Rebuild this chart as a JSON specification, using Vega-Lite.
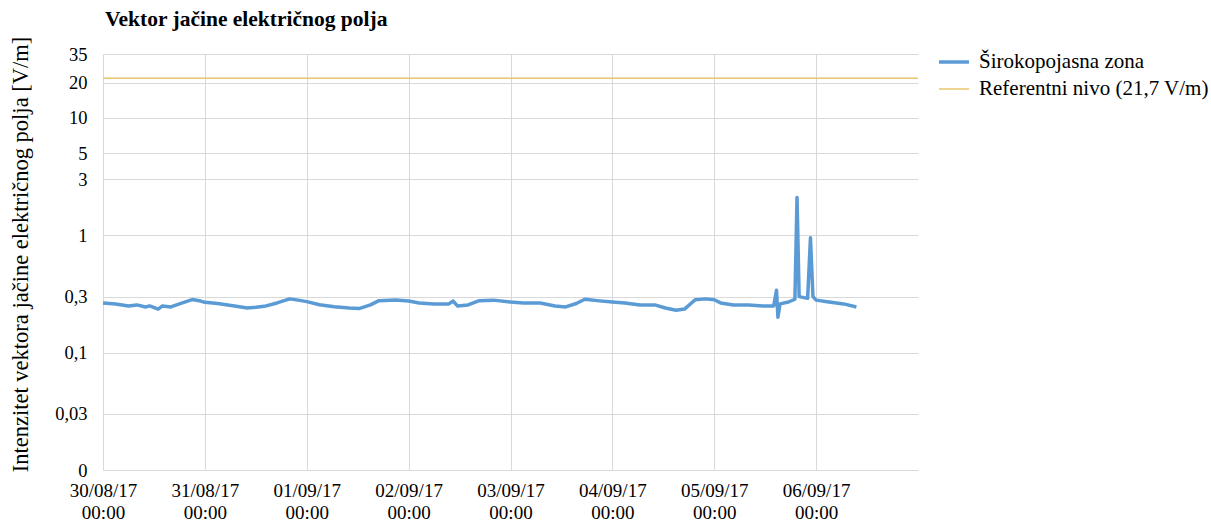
{
  "$schema": "https://vega.github.io/schema/vega-lite/v6.json",
  "width": 815,
  "height": 416,
  "autosize": {"type": "none"},
  "padding": {"left": 103, "top": 54, "right": 293, "bottom": 53},
  "background": "white",
  "config": {
    "view": {"stroke": null},
    "font": "Liberation Serif"
  },
  "title": {
    "text": "Vektor jačine električnog polja",
    "anchor": "start",
    "frame": "group",
    "font": "Liberation Serif",
    "fontSize": 21.5,
    "fontWeight": "bold",
    "color": "#000000",
    "offset": 15,
    "dx": 2,
    "dy": 9
  },
  "datasets": {
    "mjerenja": [
      {"t": "2017-08-30T00:00:00", "v": 0.265, "serija": "Širokopojasna zona"},
      {"t": "2017-08-30T03:00:00", "v": 0.26, "serija": "Širokopojasna zona"},
      {"t": "2017-08-30T06:00:00", "v": 0.25, "serija": "Širokopojasna zona"},
      {"t": "2017-08-30T08:00:00", "v": 0.255, "serija": "Širokopojasna zona"},
      {"t": "2017-08-30T10:00:00", "v": 0.245, "serija": "Širokopojasna zona"},
      {"t": "2017-08-30T11:00:00", "v": 0.25, "serija": "Širokopojasna zona"},
      {"t": "2017-08-30T13:00:00", "v": 0.235, "serija": "Širokopojasna zona"},
      {"t": "2017-08-30T14:00:00", "v": 0.25, "serija": "Širokopojasna zona"},
      {"t": "2017-08-30T16:00:00", "v": 0.245, "serija": "Širokopojasna zona"},
      {"t": "2017-08-30T18:00:00", "v": 0.26, "serija": "Širokopojasna zona"},
      {"t": "2017-08-30T21:00:00", "v": 0.283, "serija": "Širokopojasna zona"},
      {"t": "2017-08-30T23:00:00", "v": 0.275, "serija": "Širokopojasna zona"},
      {"t": "2017-08-31T00:00:00", "v": 0.268, "serija": "Širokopojasna zona"},
      {"t": "2017-08-31T03:00:00", "v": 0.262, "serija": "Širokopojasna zona"},
      {"t": "2017-08-31T07:00:00", "v": 0.25, "serija": "Širokopojasna zona"},
      {"t": "2017-08-31T10:00:00", "v": 0.24, "serija": "Širokopojasna zona"},
      {"t": "2017-08-31T12:00:00", "v": 0.243, "serija": "Širokopojasna zona"},
      {"t": "2017-08-31T14:00:00", "v": 0.248, "serija": "Širokopojasna zona"},
      {"t": "2017-08-31T17:00:00", "v": 0.265, "serija": "Širokopojasna zona"},
      {"t": "2017-08-31T20:00:00", "v": 0.287, "serija": "Širokopojasna zona"},
      {"t": "2017-08-31T22:00:00", "v": 0.28, "serija": "Širokopojasna zona"},
      {"t": "2017-09-01T00:00:00", "v": 0.272, "serija": "Širokopojasna zona"},
      {"t": "2017-09-01T03:00:00", "v": 0.256, "serija": "Širokopojasna zona"},
      {"t": "2017-09-01T06:30:00", "v": 0.246, "serija": "Širokopojasna zona"},
      {"t": "2017-09-01T10:00:00", "v": 0.24, "serija": "Širokopojasna zona"},
      {"t": "2017-09-01T12:30:00", "v": 0.238, "serija": "Širokopojasna zona"},
      {"t": "2017-09-01T15:00:00", "v": 0.255, "serija": "Širokopojasna zona"},
      {"t": "2017-09-01T17:00:00", "v": 0.277, "serija": "Širokopojasna zona"},
      {"t": "2017-09-01T21:00:00", "v": 0.281, "serija": "Širokopojasna zona"},
      {"t": "2017-09-02T00:00:00", "v": 0.275, "serija": "Širokopojasna zona"},
      {"t": "2017-09-02T02:30:00", "v": 0.265, "serija": "Širokopojasna zona"},
      {"t": "2017-09-02T06:00:00", "v": 0.26, "serija": "Širokopojasna zona"},
      {"t": "2017-09-02T09:30:00", "v": 0.26, "serija": "Širokopojasna zona"},
      {"t": "2017-09-02T10:30:00", "v": 0.275, "serija": "Širokopojasna zona"},
      {"t": "2017-09-02T11:30:00", "v": 0.25, "serija": "Širokopojasna zona"},
      {"t": "2017-09-02T14:00:00", "v": 0.255, "serija": "Širokopojasna zona"},
      {"t": "2017-09-02T16:30:00", "v": 0.276, "serija": "Širokopojasna zona"},
      {"t": "2017-09-02T20:00:00", "v": 0.28, "serija": "Širokopojasna zona"},
      {"t": "2017-09-03T00:00:00", "v": 0.27, "serija": "Širokopojasna zona"},
      {"t": "2017-09-03T03:00:00", "v": 0.265, "serija": "Širokopojasna zona"},
      {"t": "2017-09-03T07:00:00", "v": 0.265, "serija": "Širokopojasna zona"},
      {"t": "2017-09-03T10:30:00", "v": 0.25, "serija": "Širokopojasna zona"},
      {"t": "2017-09-03T13:00:00", "v": 0.245, "serija": "Širokopojasna zona"},
      {"t": "2017-09-03T15:30:00", "v": 0.262, "serija": "Širokopojasna zona"},
      {"t": "2017-09-03T17:30:00", "v": 0.285, "serija": "Širokopojasna zona"},
      {"t": "2017-09-03T21:00:00", "v": 0.276, "serija": "Širokopojasna zona"},
      {"t": "2017-09-04T00:00:00", "v": 0.27, "serija": "Širokopojasna zona"},
      {"t": "2017-09-04T03:00:00", "v": 0.265, "serija": "Širokopojasna zona"},
      {"t": "2017-09-04T06:30:00", "v": 0.255, "serija": "Širokopojasna zona"},
      {"t": "2017-09-04T10:00:00", "v": 0.255, "serija": "Širokopojasna zona"},
      {"t": "2017-09-04T12:30:00", "v": 0.24, "serija": "Širokopojasna zona"},
      {"t": "2017-09-04T15:00:00", "v": 0.23, "serija": "Širokopojasna zona"},
      {"t": "2017-09-04T17:00:00", "v": 0.235, "serija": "Širokopojasna zona"},
      {"t": "2017-09-04T19:30:00", "v": 0.282, "serija": "Širokopojasna zona"},
      {"t": "2017-09-04T22:00:00", "v": 0.287, "serija": "Širokopojasna zona"},
      {"t": "2017-09-05T00:00:00", "v": 0.282, "serija": "Širokopojasna zona"},
      {"t": "2017-09-05T01:30:00", "v": 0.265, "serija": "Širokopojasna zona"},
      {"t": "2017-09-05T04:30:00", "v": 0.255, "serija": "Širokopojasna zona"},
      {"t": "2017-09-05T08:00:00", "v": 0.255, "serija": "Širokopojasna zona"},
      {"t": "2017-09-05T11:30:00", "v": 0.25, "serija": "Širokopojasna zona"},
      {"t": "2017-09-05T14:00:00", "v": 0.25, "serija": "Širokopojasna zona"},
      {"t": "2017-09-05T14:40:00", "v": 0.34, "serija": "Širokopojasna zona"},
      {"t": "2017-09-05T15:00:00", "v": 0.2, "serija": "Širokopojasna zona"},
      {"t": "2017-09-05T15:30:00", "v": 0.26, "serija": "Širokopojasna zona"},
      {"t": "2017-09-05T17:30:00", "v": 0.27, "serija": "Širokopojasna zona"},
      {"t": "2017-09-05T19:00:00", "v": 0.285, "serija": "Širokopojasna zona"},
      {"t": "2017-09-05T19:30:00", "v": 2.1, "serija": "Širokopojasna zona"},
      {"t": "2017-09-05T20:00:00", "v": 0.3, "serija": "Širokopojasna zona"},
      {"t": "2017-09-05T22:00:00", "v": 0.29, "serija": "Širokopojasna zona"},
      {"t": "2017-09-05T22:40:00", "v": 0.95, "serija": "Širokopojasna zona"},
      {"t": "2017-09-05T23:15:00", "v": 0.3, "serija": "Širokopojasna zona"},
      {"t": "2017-09-06T00:00:00", "v": 0.28, "serija": "Širokopojasna zona"},
      {"t": "2017-09-06T03:00:00", "v": 0.27, "serija": "Širokopojasna zona"},
      {"t": "2017-09-06T06:30:00", "v": 0.26, "serija": "Širokopojasna zona"},
      {"t": "2017-09-06T09:30:00", "v": 0.245, "serija": "Širokopojasna zona"}
    ],
    "referenca": [
      {"v": 21.7, "serija": "Referentni nivo (21,7 V/m)"}
    ]
  },
  "layer": [
    {
      "data": {"name": "mjerenja"},
      "mark": {"type": "line", "strokeJoin": "round"},
      "encoding": {
        "x": {
          "field": "t",
          "type": "temporal",
          "scale": {
            "domain": [
              {"year": 2017, "month": 8, "date": 30},
              {"year": 2017, "month": 9, "date": 7}
            ],
            "nice": false
          },
          "axis": {
            "title": null,
            "values": [
              {"year": 2017, "month": 8, "date": 30},
              {"year": 2017, "month": 8, "date": 31},
              {"year": 2017, "month": 9, "date": 1},
              {"year": 2017, "month": 9, "date": 2},
              {"year": 2017, "month": 9, "date": 3},
              {"year": 2017, "month": 9, "date": 4},
              {"year": 2017, "month": 9, "date": 5},
              {"year": 2017, "month": 9, "date": 6}
            ],
            "labelExpr": "[timeFormat(datum.value, '%d/%m/%y'), '00:00']",
            "labelFont": "Liberation Serif",
            "labelFontSize": 19,
            "labelColor": "#000000",
            "labelLineHeight": 22,
            "labelPadding": 11,
            "labelFlush": false,
            "labelOverlap": false,
            "domain": false,
            "ticks": false,
            "grid": true,
            "gridColor": "#D9D9D9",
            "gridWidth": 1
          }
        },
        "y": {
          "field": "v",
          "type": "quantitative",
          "scale": {"type": "log", "domain": [0.01, 35], "nice": false},
          "axis": {
            "title": "Intenzitet vektora jačine električnog polja [V/m]",
            "titleFont": "Liberation Serif",
            "titleFontSize": 22.5,
            "titleFontWeight": "normal",
            "titleColor": "#000000",
            "titlePadding": 22,
            "titleY": 200,
            "values": [0.01, 0.03, 0.1, 0.3, 1, 3, 5, 10, 20, 35],
            "labelExpr": "datum.value < 0.02 ? '0' : replace(format(datum.value, '~g'), '.', ',')",
            "labelFont": "Liberation Serif",
            "labelFontSize": 18.5,
            "labelColor": "#000000",
            "labelPadding": 16,
            "labelOverlap": false,
            "labelFlush": false,
            "domain": false,
            "ticks": false,
            "grid": true,
            "gridColor": "#D9D9D9",
            "gridWidth": 1
          }
        },
        "color": {
          "field": "serija",
          "type": "nominal",
          "scale": {
            "domain": ["Širokopojasna zona", "Referentni nivo (21,7 V/m)"],
            "range": ["#5B9BD5", "#E8C56E"]
          },
          "legend": {
            "title": null,
            "orient": "none",
            "legendX": 834,
            "legendY": -9,
            "symbolType": "stroke",
            "symbolSize": 900,
            "labelFont": "Liberation Serif",
            "labelFontSize": 21,
            "labelColor": "#000000",
            "labelOffset": 8,
            "rowPadding": 1,
            "labelLimit": 300
          }
        },
        "strokeWidth": {
          "field": "serija",
          "type": "nominal",
          "scale": {
            "domain": ["Širokopojasna zona", "Referentni nivo (21,7 V/m)"],
            "range": [3.5, 1.5]
          },
          "legend": {
            "title": null,
            "orient": "none",
            "legendX": 834,
            "legendY": -9,
            "symbolType": "stroke",
            "symbolSize": 900,
            "labelFont": "Liberation Serif",
            "labelFontSize": 21,
            "labelColor": "#000000",
            "labelOffset": 8,
            "rowPadding": 1,
            "labelLimit": 300
          }
        }
      }
    },
    {
      "data": {"name": "referenca"},
      "mark": {"type": "rule"},
      "encoding": {
        "y": {"field": "v", "type": "quantitative"},
        "color": {"field": "serija", "type": "nominal"},
        "strokeWidth": {"field": "serija", "type": "nominal"}
      }
    }
  ]
}
